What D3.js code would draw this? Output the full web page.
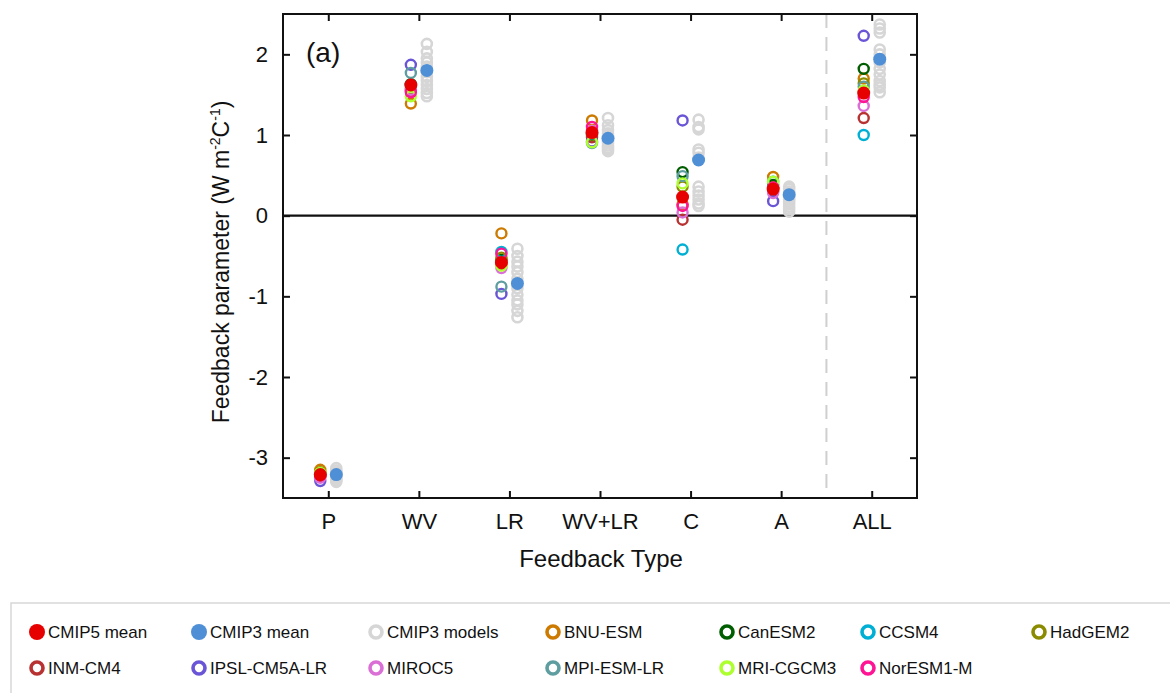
<!DOCTYPE html>
<html><head><meta charset="utf-8">
<script src="https://cdn.jsdelivr.net/npm/d3@7"></script>
<style>body{margin:0;background:#fff;} svg{display:block;font-family:"Liberation Sans",Arial,sans-serif;}</style>
</head><body>
<svg id="c" width="1170" height="693"></svg>
<script>
const categories = ["P","WV","LR","WV+LR","C","A","ALL"];
const yTicks = [-3,-2,-1,0,1,2];
const models = ["BNU-ESM","CanESM2","CCSM4","HadGEM2","INM-CM4","IPSL-CM5A-LR","MIROC5","MPI-ESM-LR","MRI-CGCM3","NorESM1-M"];
const modelColors = ["#cd7a00","#005e00","#00b0d4","#8b8b00","#b83232","#6a55d6","#da70d6","#5f9ea0","#adff2f","#ff1493"];
const bnuEsm    = [-3.15, 1.39, -0.22, 1.18,  0.14, 0.48, 1.70];
const canEsm2   = [-3.20, 1.63, -0.55, 1.00,  0.54, 0.38, 1.82];
const ccsm4     = [-3.22, 1.62, -0.45, 1.02, -0.42, 0.42, 1.00];
const hadGem2   = [-3.18, 1.57, -0.52, 0.98,  0.36, 0.33, 1.64];
const inmCm4    = [-3.23, 1.55, -0.60, 0.97, -0.05, 0.30, 1.21];
const ipsl      = [-3.29, 1.87, -0.97, 0.92,  1.18, 0.18, 2.23];
const miroc5    = [-3.25, 1.56, -0.65, 1.05,  0.04, 0.28, 1.36];
const mpiEsm    = [-3.20, 1.77, -0.88, 0.90,  0.49, 0.34, 1.60];
const mriCgcm3  = [-3.19, 1.48, -0.62, 0.91,  0.40, 0.42, 1.55];
const norEsm    = [-3.22, 1.53, -0.47, 1.10,  0.12, 0.35, 1.47];
const modelValues = [bnuEsm, canEsm2, ccsm4, hadGem2, inmCm4, ipsl, miroc5, mpiEsm, mriCgcm3, norEsm];
const cmip5Mean = [-3.21, 1.62, -0.58, 1.03, 0.23, 0.33, 1.52];
const cmip3Mean = [-3.21, 1.80, -0.84, 0.96, 0.69, 0.26, 1.94];
const cmip3P    = [-3.13,-3.16,-3.18,-3.19,-3.20,-3.21,-3.22,-3.23,-3.24,-3.26,-3.28,-3.30];
const cmip3WV   = [2.13,2.03,1.95,1.90,1.85,1.78,1.72,1.67,1.62,1.57,1.52,1.48];
const cmip3LR   = [-0.41,-0.50,-0.57,-0.63,-0.70,-0.78,-0.90,-0.98,-1.05,-1.10,-1.18,-1.26];
const cmip3WVLR = [1.21,1.12,1.06,1.02,0.99,0.96,0.93,0.90,0.87,0.84,0.82,0.80];
const cmip3C    = [1.19,1.10,1.07,0.82,0.78,0.72,0.36,0.30,0.25,0.20,0.15,0.12];
const cmip3A    = [0.36,0.33,0.30,0.28,0.25,0.22,0.20,0.17,0.14,0.11,0.08,0.05];
const cmip3ALL  = [2.37,2.32,2.27,2.06,2.00,1.90,1.82,1.75,1.67,1.59,1.53,1.62];
const cmip3Models = [cmip3P, cmip3WV, cmip3LR, cmip3WVLR, cmip3C, cmip3A, cmip3ALL];

const svg = d3.select("#c");
const L = 283, R = 917, T = 14, B = 498;
const x = d3.scaleLinear().domain([0.5, 7.5]).range([L, R]);
const y = d3.scaleLinear().domain([-3.5, 2.5]).range([B, T]);
const off = 8;

// dashed separator
svg.append("line").attr("x1", x(6.5)).attr("x2", x(6.5)).attr("y1", T).attr("y2", B)
  .attr("stroke", "#cfcfcf").attr("stroke-width", 2).attr("stroke-dasharray", "14,9");

// zero line
svg.append("line").attr("x1", L).attr("x2", R).attr("y1", y(0)).attr("y2", y(0))
  .attr("stroke", "#111").attr("stroke-width", 2.2);

// CMIP3 models
cmip3Models.forEach((vals, i) => {
  svg.append("g").selectAll("circle").data(vals).join("circle")
    .attr("cx", x(i + 1) + off).attr("cy", d => y(d)).attr("r", 5)
    .attr("fill", "none").attr("stroke", "#d6d6d6").attr("stroke-width", 2.6);
});
// CMIP5 models
modelValues.forEach((vals, m) => {
  svg.append("g").selectAll("circle").data(vals).join("circle")
    .attr("cx", (d, i) => x(i + 1) - off).attr("cy", d => y(d)).attr("r", 5)
    .attr("fill", "none").attr("stroke", modelColors[m]).attr("stroke-width", 2.4);
});
// means
svg.append("g").selectAll("circle").data(cmip5Mean).join("circle")
  .attr("cx", (d, i) => x(i + 1) - off).attr("cy", d => y(d)).attr("r", 6.5).attr("fill", "#e60000");
svg.append("g").selectAll("circle").data(cmip3Mean).join("circle")
  .attr("cx", (d, i) => x(i + 1) + off).attr("cy", d => y(d)).attr("r", 6.5).attr("fill", "#4f8fd6");

// frame
svg.append("rect").attr("x", L).attr("y", T).attr("width", R - L).attr("height", B - T)
  .attr("fill", "none").attr("stroke", "#111").attr("stroke-width", 2);

// axes
const fs = "22px";
const yAxL = svg.append("g").attr("transform", `translate(${L},0)`)
  .call(d3.axisLeft(y).tickValues(yTicks).tickSize(-7).tickPadding(15).tickFormat(d => String(d)));
const yAxR = svg.append("g").attr("transform", `translate(${R},0)`)
  .call(d3.axisRight(y).tickValues(yTicks).tickSize(-7).tickFormat(""));
const xAxB = svg.append("g").attr("transform", `translate(0,${B})`)
  .call(d3.axisBottom(x).tickValues(d3.range(1, 8)).tickSize(-7).tickPadding(15).tickFormat(d => categories[d - 1]));
const xAxT = svg.append("g").attr("transform", `translate(0,${T})`)
  .call(d3.axisTop(x).tickValues(d3.range(1, 8)).tickSize(-7).tickFormat(""));
[yAxL, yAxR, xAxB, xAxT].forEach(g => {
  g.select(".domain").remove();
  g.selectAll(".tick line").attr("stroke", "#111").attr("stroke-width", 2);
  g.selectAll("text").attr("font-size", fs).attr("fill", "#111").attr("font-family", "Liberation Sans, Arial, sans-serif");
});

// labels
svg.append("text").attr("x", 306).attr("y", 62).attr("font-size", "28px").attr("fill", "#111").text("(a)");
svg.append("text").attr("x", (L + R) / 2 + 1).attr("y", 567).attr("text-anchor", "middle")
  .attr("font-size", "24px").attr("fill", "#111").text("Feedback Type");
const yl = svg.append("text").attr("transform", `translate(229,${(T + B) / 2 + 6}) rotate(-90)`)
  .attr("text-anchor", "middle").attr("font-size", "23px").attr("fill", "#111");
yl.append("tspan").text("Feedback parameter (W m");
yl.append("tspan").attr("font-size", "14px").attr("dy", -9).text("-2");
yl.append("tspan").attr("dy", 9).text("C");
yl.append("tspan").attr("font-size", "14px").attr("dy", -9).text("-1");
yl.append("tspan").attr("dy", 9).text(")");

// legend
const legendNames = ["CMIP5 mean","CMIP3 mean","CMIP3 models"].concat(models);
const legendColors = ["#e60000","#4f8fd6","#d6d6d6"].concat(modelColors);
const legendCols = [37, 199, 376, 553, 727, 868, 1039];
const legendRows = [632, 668];
svg.append("rect").attr("x", 11).attr("y", 603).attr("width", 1170).attr("height", 100)
  .attr("fill", "none").attr("stroke", "#d8d8d8").attr("stroke-width", 1.5);
legendNames.forEach((name, i) => {
  const cx = legendCols[i % 7], cy = legendRows[Math.floor(i / 7)];
  const g = svg.append("g");
  if (i < 2) g.append("circle").attr("cx", cx).attr("cy", cy).attr("r", 8).attr("fill", legendColors[i]);
  else g.append("circle").attr("cx", cx).attr("cy", cy).attr("r", 6).attr("fill", "none")
    .attr("stroke", legendColors[i]).attr("stroke-width", 3.6);
  g.append("text").attr("x", cx + 11).attr("y", cy + 6).attr("font-size", "17px").attr("fill", "#111").text(name);
});
</script>
</body></html>
